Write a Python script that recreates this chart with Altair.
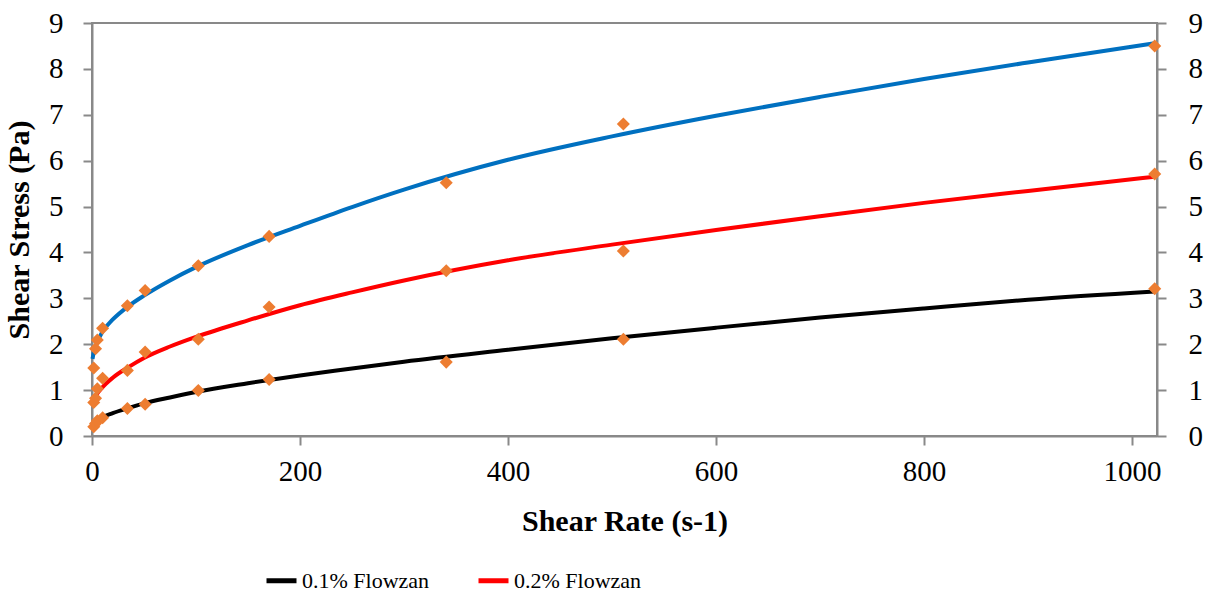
import altair as alt
import pandas as pd

# Model curves: shear stress (Pa) along a shear-rate grid (1/s)
curve_rate = [0.5, 2, 5, 10, 20, 35, 50, 75, 100, 150, 200, 250, 300, 400, 500, 600, 700, 800, 900, 1021.8]
curve_01 = [0.22, 0.27, 0.33, 0.41, 0.50, 0.61, 0.71, 0.84, 0.96, 1.15, 1.32, 1.47, 1.62, 1.88, 2.13, 2.36, 2.58, 2.78, 2.97, 3.15]
curve_02 = [0.70, 0.80, 0.92, 1.06, 1.27, 1.50, 1.70, 1.95, 2.16, 2.52, 2.85, 3.13, 3.39, 3.83, 4.17, 4.49, 4.79, 5.08, 5.34, 5.65]
curve_03 = [1.68, 1.86, 2.04, 2.27, 2.54, 2.83, 3.06, 3.39, 3.68, 4.16, 4.58, 4.99, 5.37, 6.02, 6.53, 6.98, 7.39, 7.78, 8.14, 8.56]

# Measured viscometer readings
meas_rate = [1.7, 3.4, 5.1, 10.2, 34.0, 51.1, 102.2, 170.3, 340.6, 510.9, 1021.8]
meas_01 = [0.20, 0.27, 0.33, 0.40, 0.60, 0.69, 0.99, 1.23, 1.61, 2.11, 3.21]
meas_02 = [0.73, 0.82, 1.03, 1.26, 1.43, 1.83, 2.11, 2.81, 3.60, 4.03, 5.71]
meas_03 = [1.48, 1.90, 2.09, 2.35, 2.84, 3.17, 3.71, 4.35, 5.52, 6.80, 8.50]

series_names = ["0.1% Flowzan", "0.2% Flowzan", "0.3% Flowzan"]
series_colors = ["#000000", "#FF0000", "#0070C0"]
x_ticks = [0, 200, 400, 600, 800, 1000]
y_ticks = [0, 1, 2, 3, 4, 5, 6, 7, 8, 9]

curves = pd.concat([
    pd.DataFrame({"series": name, "rate": curve_rate, "stress": vals})
    for name, vals in zip(series_names, [curve_01, curve_02, curve_03])
])
measured = pd.concat([
    pd.DataFrame({"series": name, "rate": meas_rate, "stress": vals})
    for name, vals in zip(series_names, [meas_01, meas_02, meas_03])
])

FONT = "Liberation Serif"
AXIS_GREY = "#898989"

x_enc = alt.X(
    "rate:Q",
    scale=alt.Scale(domain=[0, 1024], nice=False),
    axis=alt.Axis(
        values=x_ticks, format="d", title="Shear Rate (s-1)",
        labelFlush=False, labelPadding=12, titlePadding=20,
    ),
)

lines = alt.Chart(curves).mark_line(strokeWidth=4, interpolate="monotone").encode(
    x=x_enc,
    y=alt.Y(
        "stress:Q",
        scale=alt.Scale(domain=[0, 9], nice=False),
        axis=alt.Axis(values=y_ticks, title="Shear Stress (Pa)", labelPadding=20, titlePadding=14),
    ),
    color=alt.Color(
        "series:N",
        scale=alt.Scale(domain=series_names, range=series_colors),
        legend=alt.Legend(
            values=series_names[:2],
            title=None,
            orient="none",
            legendX=172,
            legendY=540,
            direction="horizontal",
            symbolType="stroke",
            symbolSize=900,
            symbolStrokeWidth=5,
            labelFont=FONT,
            labelFontSize=22,
            labelColor="#000000",
            labelOffset=3,
            columnPadding=38,
        ),
    ),
    detail="series:N",
)

points = alt.Chart(measured).mark_point(
    shape="diamond", filled=True, size=170, color="#ED7D31", opacity=1
).encode(
    x=x_enc,
    y=alt.Y(
        "stress:Q",
        scale=alt.Scale(domain=[0, 9], nice=False),
        axis=alt.Axis(orient="right", values=y_ticks, title=None, labelPadding=22),
    ),
)

chart = (
    alt.layer(lines, points)
    .resolve_scale(y="independent")
    .properties(
        width=1065,
        height=413,
        padding={"left": 92, "top": 23, "right": 51, "bottom": 160},
        autosize=alt.AutoSizeParams(type="none"),
        background="#ffffff",
    )
    .configure_view(stroke=AXIS_GREY, strokeWidth=2)
    .configure_axis(
        grid=False,
        labelFont=FONT,
        labelFontSize=29,
        labelColor="#000000",
        titleFont=FONT,
        titleFontSize=30,
        titleFontWeight="bold",
        titleColor="#000000",
        domainColor=AXIS_GREY,
        domainWidth=2,
        tickColor=AXIS_GREY,
        tickWidth=2,
        tickSize=9,
    )
)

chart.save("out.html", embed_options={"renderer": "svg", "actions": False})
